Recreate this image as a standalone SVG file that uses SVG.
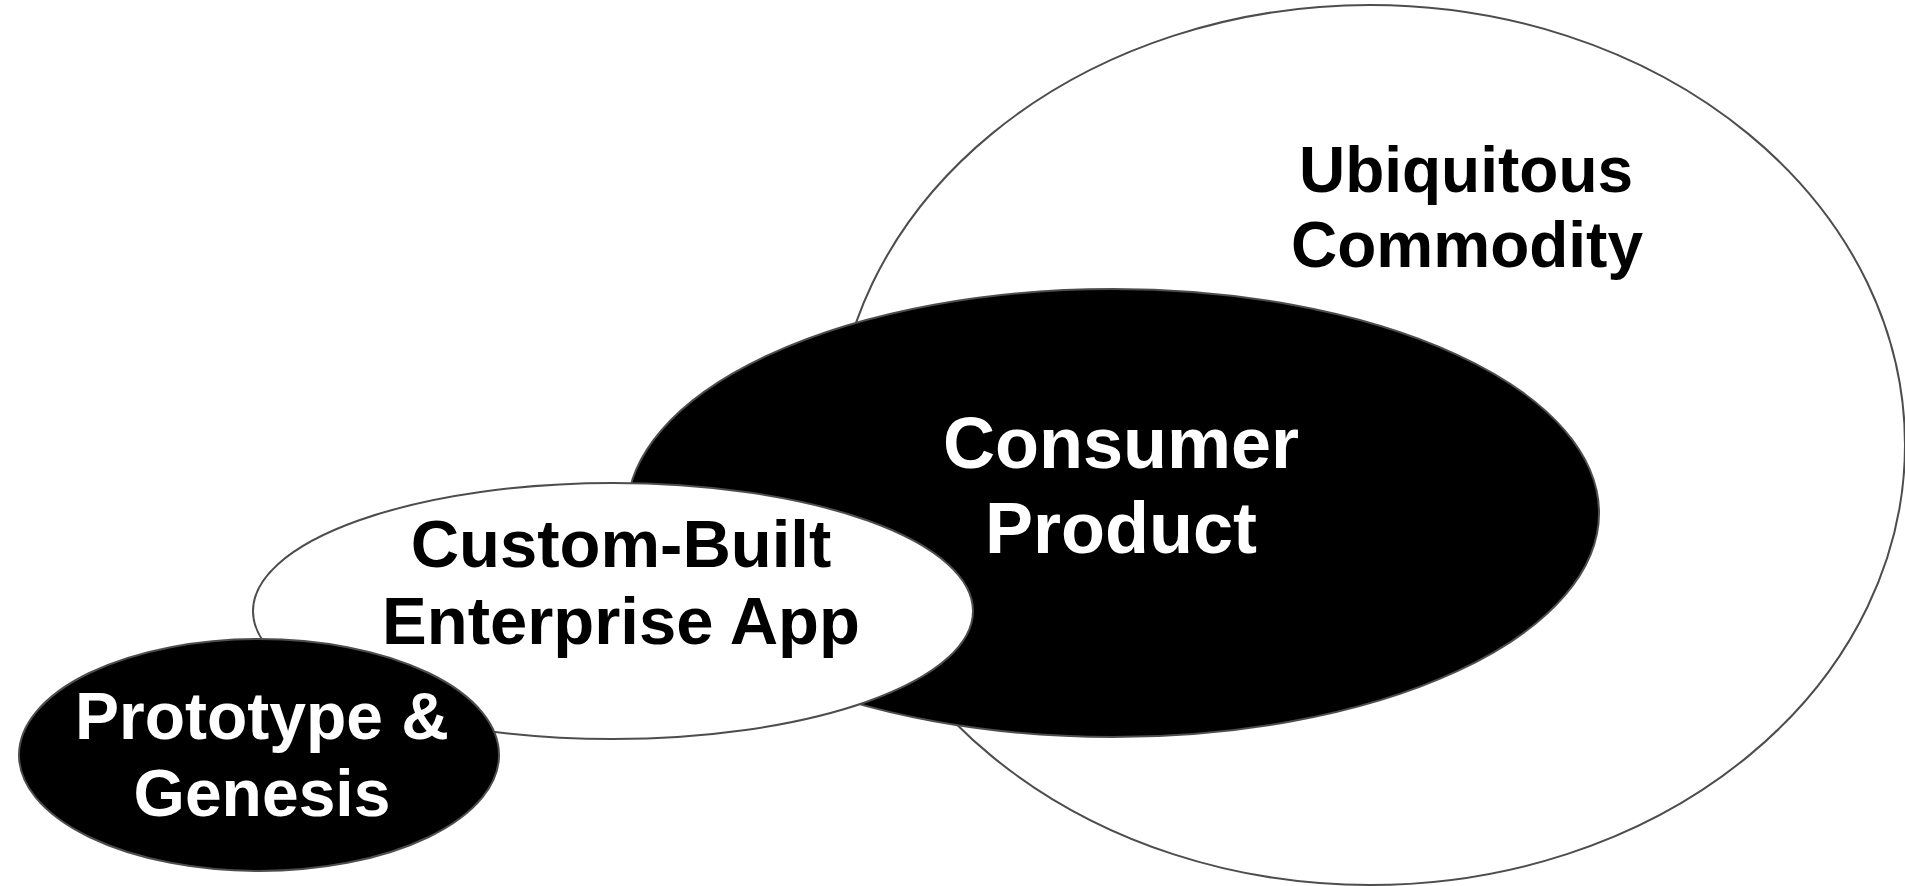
<svg xmlns="http://www.w3.org/2000/svg" width="1905" height="886" viewBox="0 0 1905 886">
<style>
.e{stroke:#4d4d4d;stroke-width:2}
.w{fill:#fff}
.b{fill:#000}
.t{font-family:"Liberation Sans",Arial,sans-serif;font-weight:bold;text-anchor:middle}
.tw{fill:#fff}
.tb{fill:#000}
</style>
<rect width="1905" height="886" fill="#fff"/>
<g id="ubiquitous">
<ellipse class="e w" cx="1370" cy="445" rx="535" ry="440"/>
<text class="t tb" font-size="64" x="1466" y="192">Ubiquitous</text>
<text class="t tb" font-size="64" x="1467" y="267">Commodity</text>
</g>
<g id="consumer">
<ellipse class="e b" cx="1113" cy="513" rx="486" ry="224"/>
<text class="t tw" font-size="72" x="1121" y="468">Consumer</text>
<text class="t tw" font-size="72" x="1121" y="553">Product</text>
</g>
<g id="custom">
<ellipse class="e w" cx="613" cy="611" rx="360" ry="128"/>
<text class="t tb" font-size="67" x="621" y="567">Custom-Built</text>
<text class="t tb" font-size="67" x="621" y="644">Enterprise App</text>
</g>
<g id="prototype">
<ellipse class="e b" cx="259" cy="755" rx="240" ry="116"/>
<text class="t tw" font-size="66" x="262" y="739">Prototype &amp;</text>
<text class="t tw" font-size="66" x="262" y="816">Genesis</text>
</g>
<g id="connectors"/>
</svg>
